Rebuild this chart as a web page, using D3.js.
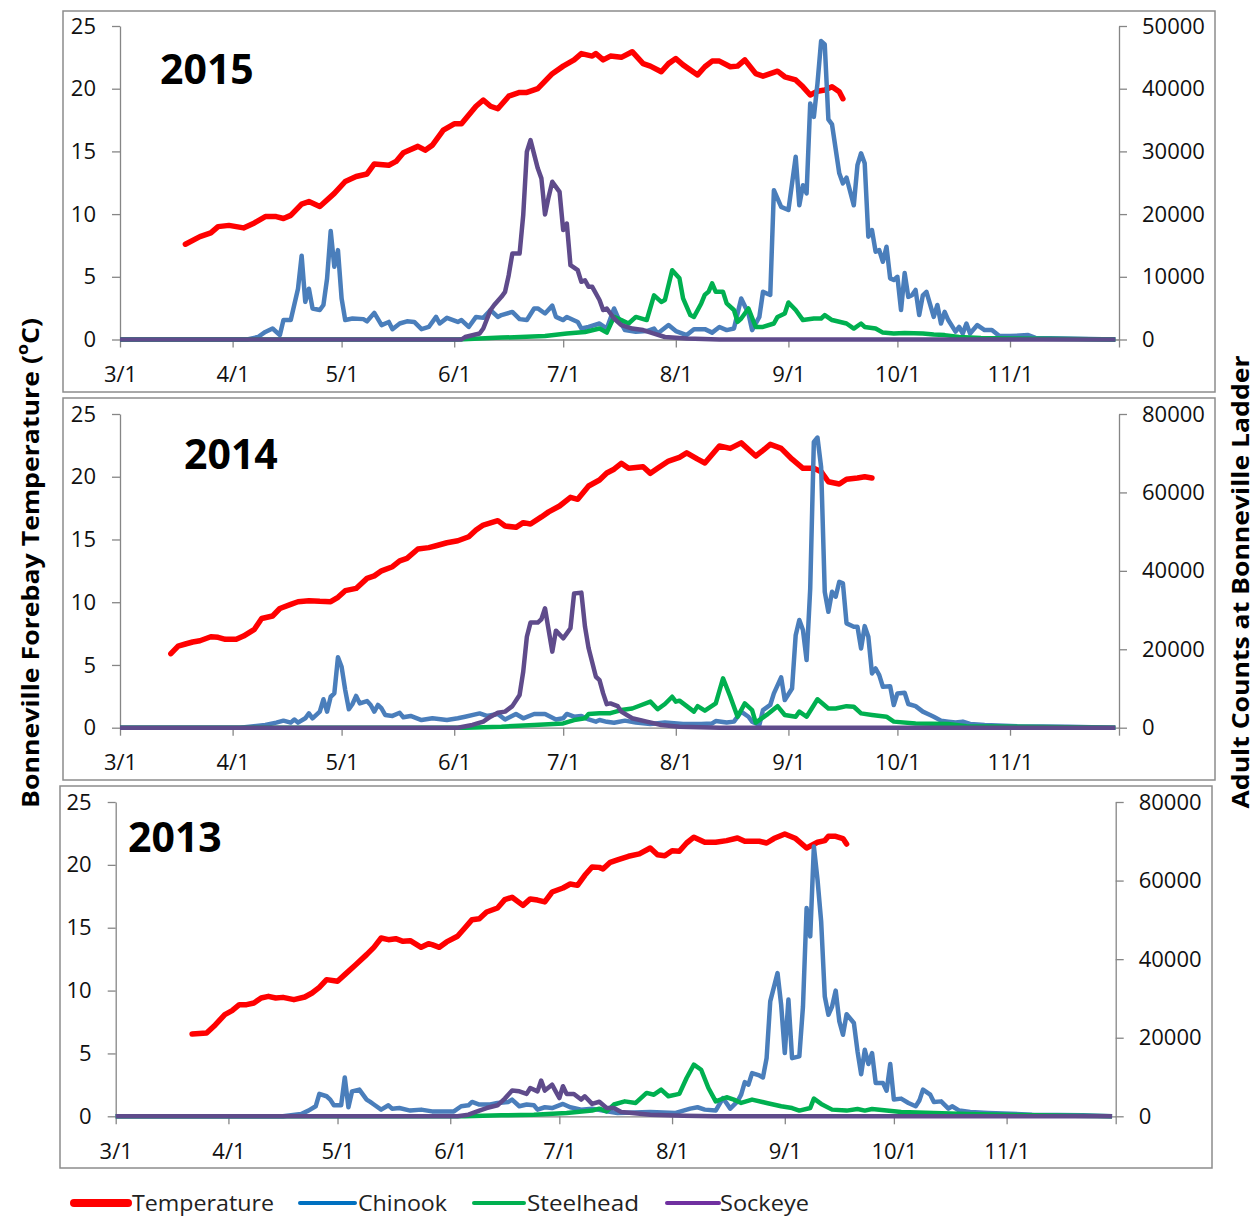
<!DOCTYPE html>
<html>
<head>
<meta charset="utf-8">
<script src="https://d3js.org/d3.v7.min.js"></script>
<style>
  body { margin: 0; background: #fff; }
  svg { display: block; }
</style>
</head>
<body>
<div id="chart"></div>
<script>
// day offsets are counted from March 1 of each year
const monthLabels = ["3/1", "4/1", "5/1", "6/1", "7/1", "8/1", "9/1", "10/1", "11/1", ""];
const tempTicks = [0, 5, 10, 15, 20, 25];
const countTicks2015 = [0, 10000, 20000, 30000, 40000, 50000];
const countTicks2014 = [0, 20000, 40000, 60000, 80000];
const countTicks2013 = [0, 20000, 40000, 60000, 80000];

const temp2015 = [[18,7.6],[22,8.2],[25,8.5],[27,9.0],[30,9.1],[34,8.9],[37,9.3],[40,9.8],[43,9.8],[45,9.65],[47,9.9],[50,10.8],[52,11.0],[55,10.6],[59,11.65],[62,12.6],[65,13.0],[68,13.2],[70,14.0],[74,13.9],[76,14.2],[78,14.9],[82,15.4],[84,15.1],[86,15.5],[89,16.7],[92,17.2],[94,17.2],[96,17.9],[98,18.6],[100,19.1],[102,18.6],[104,18.4],[107,19.4],[108,19.5],[110,19.7],[112,19.7],[115,20.0],[117,20.6],[119,21.2],[122,21.8],[125,22.3],[127,22.8],[130,22.6],[131,22.8],[133,22.3],[135,22.6],[138,22.5],[141,22.95],[144,22.0],[146,21.8],[149,21.35],[151,22.0],[153,22.4],[155,21.9],[159,21.1],[161,21.75],[163,22.2],[165,22.2],[168,21.75],[170,21.8],[172,22.3],[175,21.2],[177,21.0],[181,21.4],[183,20.95],[186,20.7],[188,20.15],[190,19.5],[192,19.8],[194,19.9],[196,20.15],[198,19.75],[199,19.2]];
const chinook2015 = [[0,0],[35,0],[38,400],[40,1200],[42,1750],[44,700],[45,3100],[47,3100],[49,8100],[50,13350],[51,6000],[52,8100],[53,4950],[55,4700],[56,5500],[57,9700],[58,17300],[59,11600],[60,14250],[61,6550],[62,3100],[64,3350],[67,3250],[68,2900],[70,4250],[72,2300],[74,2800],[75,1650],[77,2550],[79,2900],[81,2800],[83,1650],[85,2000],[87,3600],[88,2550],[90,3450],[93,2800],[94,3100],[96,2000],[98,3600],[100,3450],[102,4700],[104,3600],[105,3900],[108,4400],[110,3250],[112,3100],[114,4950],[115,4950],[117,4150],[119,5400],[120,3600],[122,3100],[123,3600],[126,2800],[127,1750],[129,2000],[132,2550],[134,1750],[136,4950],[137,3600],[139,1500],[142,1250],[145,1350],[147,1750],[148,950],[151,2300],[153,1350],[156,700],[158,1650],[161,1650],[163,1100],[165,2000],[167,1500],[169,1750],[171,6550],[173,4150],[174,1500],[176,3600],[177,7600],[179,7100],[180,23800],[182,21150],[184,20650],[186,29150],[187,21400],[188,24600],[189,23300],[190,37650],[191,35500],[192,40850],[193,47600],[194,47050],[195,35100],[196,34300],[198,26500],[199,24900],[200,25800],[202,21400],[203,27800],[204,29700],[205,28100],[206,16400],[207,17450],[208,14000],[209,14250],[210,12400],[211,14800],[212,9750],[213,9500],[214,10000],[215,4700],[216,10600],[217,6800],[218,7050],[219,7900],[220,3900],[221,7050],[222,7600],[224,3600],[225,5500],[226,2550],[227,4400],[228,3100],[230,1250],[231,2000],[232,950],[233,2550],[234,950],[236,2300],[238,1500],[240,1500],[242,600],[245,550],[250,700],[252,250],[260,150],[274,0]];
const steelhead2015 = [[0,0],[93,0],[105,300],[117,550],[123,950],[128,1200],[132,1750],[134,1100],[136,3600],[138,3100],[140,2550],[142,3600],[145,3100],[147,7050],[149,6000],[150,6300],[152,11050],[154,9750],[155,6550],[157,3900],[158,3600],[160,5750],[161,7150],[162,7600],[163,8950],[164,7600],[166,7600],[167,5750],[169,4700],[170,2800],[171,3350],[173,4950],[175,2000],[177,2000],[180,2550],[181,3600],[183,4150],[184,5900],[186,4700],[188,3100],[191,3350],[193,3350],[194,3900],[196,3100],[200,2550],[202,1750],[204,2550],[205,2000],[208,1750],[210,1100],[213,950],[216,1050],[221,950],[224,800],[227,700],[231,400],[237,250],[246,150],[274,0]];
const sockeye2015 = [[0,0],[94,0],[95,400],[99,950],[100,1750],[102,4700],[103,5500],[105,6800],[106,7600],[107,10250],[108,13700],[110,13700],[111,19850],[112,29950],[113,31800],[115,27300],[116,25700],[117,19950],[118,22750],[119,25150],[121,23550],[122,17450],[123,18500],[124,11850],[126,11050],[127,9200],[128,9450],[129,8400],[130,8400],[132,6300],[133,4700],[134,4950],[136,3350],[138,2300],[141,1750],[144,1500],[147,950],[150,400],[156,150],[165,0],[274,0]];

const temp2014 = [[14,5.9],[16,6.5],[18,6.67],[20,6.83],[22,6.93],[25,7.25],[27,7.2],[29,7.04],[32,7.04],[34,7.3],[37,7.84],[39,8.7],[42,8.9],[44,9.5],[47,9.83],[49,10.04],[52,10.12],[55,10.07],[58,10.04],[60,10.39],[62,10.92],[65,11.1],[68,11.9],[70,12.1],[72,12.5],[75,12.83],[77,13.3],[79,13.5],[82,14.24],[85,14.35],[87,14.5],[90,14.74],[93,14.9],[96,15.22],[98,15.75],[100,16.15],[104,16.5],[106,16.07],[109,15.97],[111,16.34],[113,16.23],[116,16.8],[118,17.2],[121,17.67],[124,18.36],[126,18.2],[129,19.26],[132,19.74],[134,20.3],[136,20.6],[138,21.07],[140,20.67],[144,20.8],[146,20.27],[148,20.67],[151,21.25],[154,21.55],[156,21.9],[159,21.4],[161,21.1],[165,22.45],[168,22.26],[171,22.7],[175,21.65],[177,22.1],[179,22.58],[182,22.26],[185,21.4],[188,20.67],[191,20.67],[193,20.4],[195,19.6],[198,19.42],[200,19.8],[203,19.9],[205,20.0],[207,19.9]];
const chinook2014 = [[0,0],[33,0],[40,700],[43,1300],[45,1800],[47,1300],[48,2100],[49,1300],[51,2400],[52,3650],[53,2400],[55,4100],[56,7250],[57,4100],[58,7900],[59,8750],[60,17950],[61,15550],[62,9600],[63,4700],[64,6050],[65,8100],[66,6200],[68,6800],[69,5800],[70,4100],[71,5800],[72,4900],[73,3250],[75,3000],[77,3800],[78,2650],[80,3000],[83,1950],[86,2400],[90,1950],[93,2400],[95,2800],[99,3650],[101,3000],[104,3500],[106,2100],[109,3500],[111,2400],[114,3500],[117,3500],[120,2100],[122,2400],[123,3500],[125,2800],[127,3000],[129,2100],[131,1550],[132,1950],[134,1500],[136,1250],[139,1800],[142,1300],[146,950],[150,1300],[155,950],[160,950],[163,1100],[164,1700],[167,1300],[169,1550],[171,4100],[173,2800],[174,1550],[176,700],[177,4500],[179,5800],[180,8750],[182,12850],[183,7050],[185,10000],[186,23600],[187,27450],[188,24900],[189,17250],[190,35500],[191,72900],[192,74000],[193,66500],[194,34650],[195,29550],[196,34650],[197,33400],[198,37200],[199,36800],[200,26600],[202,25750],[203,25750],[204,20200],[205,25900],[206,23200],[207,13850],[208,15100],[209,13400],[210,10450],[212,10600],[213,5800],[214,8750],[216,8900],[217,6050],[219,5500],[221,4100],[223,3250],[224,2800],[226,1800],[228,1550],[230,1300],[232,1550],[234,950],[238,700],[247,400],[261,250],[274,0]];
const steelhead2014 = [[0,0],[95,0],[105,250],[114,700],[122,1100],[125,1950],[128,2400],[129,3500],[132,3700],[135,3700],[138,4500],[141,4900],[143,5600],[146,6650],[148,4700],[150,6050],[152,7900],[153,6650],[154,6900],[156,5500],[158,4100],[159,5500],[161,4350],[164,6200],[166,12600],[168,7900],[170,2800],[172,6200],[174,4500],[175,1300],[178,3250],[181,5500],[183,3250],[186,2800],[187,4100],[189,2800],[192,7250],[195,4900],[197,4900],[200,5500],[202,5350],[204,3650],[207,3250],[211,2800],[213,1550],[219,1100],[228,950],[233,400],[247,250],[274,0]];
const sockeye2014 = [[0,0],[93,0],[97,700],[100,1550],[102,2800],[104,3800],[106,4100],[108,5500],[110,8350],[111,14300],[112,23200],[113,26800],[115,26800],[116,27650],[117,30450],[118,24900],[119,19400],[120,24750],[122,22800],[123,24050],[124,25350],[125,34250],[127,34450],[128,25750],[129,20250],[131,13000],[132,12150],[133,8750],[134,6000],[135,6200],[137,5500],[138,4100],[141,2400],[145,1550],[149,700],[154,250],[165,0],[274,0]];

const temp2013 = [[21,6.55],[25,6.63],[27,7.16],[30,8.09],[32,8.4],[34,8.88],[36,8.88],[38,9.01],[40,9.41],[42,9.54],[44,9.41],[46,9.46],[49,9.28],[52,9.49],[54,9.81],[56,10.26],[58,10.87],[61,10.74],[63,11.27],[66,12.06],[69,12.86],[71,13.44],[73,14.18],[75,14.05],[77,14.13],[79,13.92],[81,13.97],[84,13.44],[86,13.73],[87,13.65],[89,13.44],[91,13.87],[94,14.32],[96,14.98],[98,15.64],[100,15.72],[102,16.25],[105,16.57],[107,17.23],[109,17.42],[112,16.78],[114,17.29],[116,17.2],[118,17.05],[120,17.84],[123,18.16],[125,18.48],[127,18.37],[129,19.17],[131,19.83],[133,19.8],[134,19.67],[136,20.2],[138,20.4],[141,20.68],[144,20.87],[147,21.34],[149,20.81],[151,20.73],[153,21.13],[155,21.08],[157,21.74],[159,22.2],[162,21.8],[165,21.8],[168,21.93],[171,22.14],[173,21.88],[177,21.88],[179,21.74],[181,22.09],[184,22.46],[187,22.09],[190,21.34],[193,21.8],[195,21.93],[196,22.27],[198,22.27],[200,22.09],[201,21.66]];
const chinook2013 = [[0,0],[46,0],[51,600],[53,1450],[55,2550],[56,5700],[58,5100],[59,4250],[60,2800],[62,2800],[63,9900],[64,2300],[65,6350],[67,6800],[69,4250],[70,3650],[71,3000],[73,1700],[75,2800],[76,1950],[78,2100],[81,1450],[84,1700],[87,1250],[93,1250],[95,2550],[97,2800],[98,3650],[100,3000],[103,3000],[105,3400],[108,3650],[109,4250],[111,2550],[113,3000],[115,2800],[116,1700],[118,2300],[120,2100],[123,3150],[125,2300],[128,1700],[131,1950],[135,1250],[138,850],[147,1100],[154,850],[158,1950],[160,2300],[162,1700],[165,1450],[167,4650],[169,1950],[171,3800],[172,5500],[173,8700],[174,8050],[175,11000],[177,10400],[178,9900],[179,14800],[180,29250],[182,36450],[183,28400],[184,16100],[185,29700],[186,14800],[188,15250],[189,27950],[190,53000],[191,45800],[192,68700],[193,60200],[194,49600],[195,30500],[196,25850],[197,27950],[198,32000],[199,24150],[200,20750],[201,26000],[203,23750],[204,16550],[205,10700],[206,16950],[207,13300],[208,16100],[209,8450],[211,8450],[212,6500],[213,13300],[214,4250],[216,4500],[218,3400],[220,2550],[221,4000],[222,6800],[224,5500],[225,3650],[227,3800],[229,1950],[230,2550],[232,1450],[235,1100],[240,850],[246,650],[252,400],[266,250],[274,0]];
const steelhead2013 = [[0,0],[96,0],[106,250],[115,400],[124,850],[131,1450],[133,1950],[135,1250],[137,3000],[140,3800],[143,3400],[146,5950],[148,5500],[150,6800],[152,5100],[155,5700],[157,9750],[159,13150],[161,11850],[163,7200],[165,3800],[168,4850],[170,4250],[172,3400],[175,4250],[179,3400],[183,2550],[186,2100],[188,1450],[191,2100],[192,4500],[194,3150],[197,1700],[201,1450],[204,1850],[206,1450],[208,1850],[212,1450],[216,1100],[225,850],[234,600],[248,350],[274,0]];
const sockeye2013 = [[0,0],[94,0],[97,400],[100,1450],[102,2100],[105,2800],[107,4500],[109,6550],[111,6350],[113,5700],[114,7200],[116,6350],[117,9100],[118,6550],[120,8050],[121,6350],[122,4650],[123,7650],[124,5700],[126,5700],[128,4250],[129,5100],[131,3150],[133,3700],[135,2100],[137,2100],[139,1100],[142,850],[147,400],[156,150],[165,0],[274,0]];

const seriesColor = { Temperature: "#ff0000", Chinook: "#4a7ebb", Steelhead: "#00b050", Sockeye: "#5f4b8b" };
const legendColor = { Temperature: "#ff0000", Chinook: "#0070c0", Steelhead: "#00b050", Sockeye: "#7030a0" };
const axisGray = "#868686";

const panels = [
  { year: 2015, frame: [63, 11, 1215, 392], left: 120, right: 1119, top: 26, zero: 339.5, yearPos: [160, 84],
    temp: temp2015, chinook: chinook2015, steelhead: steelhead2015, sockeye: sockeye2015, countTicks: countTicks2015 },
  { year: 2014, frame: [63, 398, 1215, 780], left: 120, right: 1119, top: 414, zero: 727.7, yearPos: [184, 469],
    temp: temp2014, chinook: chinook2014, steelhead: steelhead2014, sockeye: sockeye2014, countTicks: countTicks2014 },
  { year: 2013, frame: [60, 786, 1212, 1168], left: 115.7, right: 1115.7, top: 802, zero: 1116.3, yearPos: [128, 852],
    temp: temp2013, chinook: chinook2013, steelhead: steelhead2013, sockeye: sockeye2013, countTicks: countTicks2013 }
];

const svg = d3.select("#chart").append("svg")
  .attr("width", 1259)
  .attr("height", 1220)
  .style("font-family", "'Open Sans', 'DejaVu Sans', sans-serif");

panels.forEach(p => {
  const start = new Date(Date.UTC(p.year, 2, 1));
  const end = new Date(Date.UTC(p.year, 11, 1));
  const monthDates = d3.utcMonth.range(start, d3.utcDay.offset(end, 1));

  const x = d3.scaleUtc().domain([start, end]).range([p.left, p.right]);
  const yT = d3.scaleLinear().domain([0, 25]).range([p.zero, p.top]);
  const yC = d3.scaleLinear().domain([0, d3.max(p.countTicks)]).range([p.zero, p.top]);

  const [fx0, fy0, fx1, fy1] = p.frame;
  svg.append("rect")
    .attr("x", fx0).attr("y", fy0)
    .attr("width", fx1 - fx0).attr("height", fy1 - fy0)
    .attr("fill", "none")
    .attr("stroke", "#8c8c8c")
    .attr("stroke-width", 1.5);

  const g = svg.append("g");

  const leftAxis = g.append("g")
    .attr("transform", `translate(${p.left},0)`)
    .call(d3.axisLeft(yT).tickValues(tempTicks).tickSize(8).tickSizeOuter(0).tickPadding(16));

  const rightAxis = g.append("g")
    .attr("transform", `translate(${p.right},0)`)
    .call(d3.axisRight(yC).tickValues(p.countTicks).tickSize(8).tickSizeOuter(0).tickPadding(15).tickFormat(d3.format("d")));

  const bottomAxis = g.append("g")
    .attr("transform", `translate(0,${p.zero})`)
    .call(d3.axisBottom(x).tickValues(monthDates).tickSize(8).tickSizeOuter(0).tickPadding(19)
      .tickFormat((d, i) => monthLabels[i]));

  [leftAxis, rightAxis, bottomAxis].forEach(a => {
    a.select(".domain").attr("stroke", axisGray).attr("stroke-width", 1.3);
    a.selectAll(".tick line").attr("stroke", axisGray).attr("stroke-width", 1.3);
    a.selectAll(".tick text").attr("fill", "#111").style("font-size", "22px").style("font-family", "'Open Sans', sans-serif");
  });

  const dayX = d => x(d3.utcDay.offset(start, d[0]));

  const tempLine = d3.line().x(dayX).y(d => yT(d[1]));
  const countLine = d3.line().x(dayX).y(d => yC(d[1]));

  g.append("path")
    .datum(p.temp)
    .attr("d", tempLine)
    .attr("fill", "none")
    .attr("stroke", seriesColor.Temperature)
    .attr("stroke-width", 5.5)
    .attr("stroke-linejoin", "round")
    .attr("stroke-linecap", "round");

  [["Chinook", p.chinook], ["Steelhead", p.steelhead], ["Sockeye", p.sockeye]].forEach(([name, rows]) => {
    g.append("path")
      .datum(rows)
      .attr("d", countLine)
      .attr("fill", "none")
      .attr("stroke", seriesColor[name])
      .attr("stroke-width", 4.5)
      .attr("stroke-linejoin", "round");
  });

  svg.append("text")
    .attr("x", p.yearPos[0])
    .attr("y", p.yearPos[1])
    .attr("font-size", 41)
    .attr("font-weight", "bold")
    .attr("fill", "#000")
    .text(p.year);
});

// axis titles
const leftTitle = svg.append("text")
  .attr("transform", "translate(39,563) rotate(-90)")
  .attr("text-anchor", "middle")
  .attr("font-size", 24)
  .attr("font-weight", "bold")
  .attr("fill", "#000")
  .attr("textLength", 490)
  .attr("lengthAdjust", "spacingAndGlyphs");
leftTitle.append("tspan").text("Bonneville Forebay Temperature (");
leftTitle.append("tspan").attr("font-size", 16).attr("baseline-shift", "super").text("o");
leftTitle.append("tspan").text("C)");

svg.append("text")
  .attr("transform", "translate(1249,582) rotate(-90)")
  .attr("text-anchor", "middle")
  .attr("font-size", 24)
  .attr("font-weight", "bold")
  .attr("fill", "#000")
  .attr("textLength", 453)
  .attr("lengthAdjust", "spacingAndGlyphs")
  .text("Adult Counts at Bonneville Ladder");

// legend
const legendItems = [
  { name: "Temperature", x0: 74, x1: 128, width: 8, textX: 132, textLen: 142 },
  { name: "Chinook", x0: 300, x1: 355, width: 4, textX: 358, textLen: 89 },
  { name: "Steelhead", x0: 474, x1: 524, width: 4, textX: 527, textLen: 112 },
  { name: "Sockeye", x0: 667, x1: 719, width: 4, textX: 720, textLen: 89 }
];
const legend = svg.append("g");
legend.selectAll("line")
  .data(legendItems)
  .enter()
  .append("line")
  .attr("x1", d => d.x0).attr("x2", d => d.x1)
  .attr("y1", 1203).attr("y2", 1203)
  .attr("stroke", d => legendColor[d.name])
  .attr("stroke-width", d => d.width)
  .attr("stroke-linecap", "round");
legend.selectAll("text")
  .data(legendItems)
  .enter()
  .append("text")
  .attr("x", d => d.textX)
  .attr("y", 1211)
  .attr("textLength", d => d.textLen)
  .attr("lengthAdjust", "spacingAndGlyphs")
  .attr("font-size", 21)
  .attr("fill", "#222")
  .text(d => d.name);
</script>
</body>
</html>
